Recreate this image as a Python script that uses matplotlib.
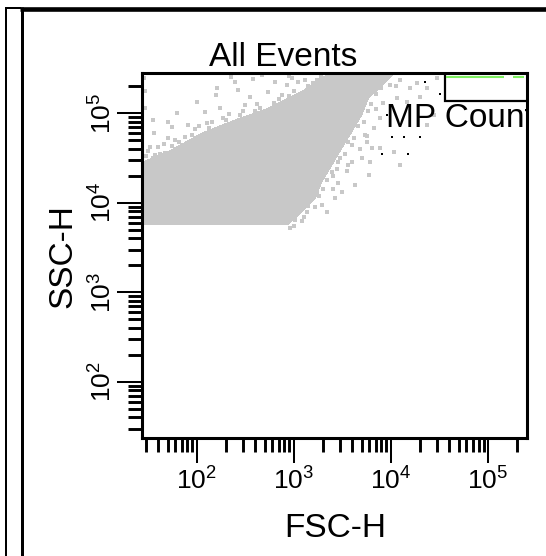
import matplotlib
matplotlib.use('Agg')
import matplotlib.pyplot as plt
import numpy as np
from matplotlib import ticker
from matplotlib.lines import Line2D
from matplotlib.patches import Rectangle

# dense band of events (FSC-H, SSC-H)
band_lower_fsc = [20, 879, 1208, 1660, 1945, 2465, 3125, 3960, 5020, 5870, 11070, 12000]
band_lower_ssc = [5750, 5750, 7960, 11200, 17200, 26400, 40600, 62200, 95700, 147000, 282000, 320000]
band_upper_fsc = [20, 28.2, 51, 112, 248, 548, 1208, 2188, 2400]
band_upper_ssc = [24900, 28800, 37300, 59800, 84200, 114000, 175000, 268000, 320000]

# sparse events outside the band (log10 of FSC-H / SSC-H)
speck_log_fsc = [1.460, 1.467, 1.553, 1.519, 1.570, 1.673, 1.708, 1.742, 1.845, 1.879,
                 1.914, 2.000, 2.086, 2.103, 2.206, 2.240, 2.275, 2.395, 2.429, 2.498,
                 2.550, 2.653, 2.670, 2.739, 2.807, 2.876, 2.928, 2.979, 3.048, 3.117,
                 3.237,
                 1.48, 1.50, 1.55, 1.60, 1.62, 1.66, 1.75, 1.78, 1.82, 1.95,
                 1.98, 2.02, 2.13, 2.16, 2.30, 2.33, 2.45, 2.48, 2.60, 2.62,
                 2.80, 2.85, 2.95, 3.00, 3.15, 3.20, 3.28, 1.44, 1.44, 1.56,
                 1.70, 1.80, 2.20, 2.35, 2.58, 2.95, 1.47,
                 2.979, 3.048, 3.013, 3.082, 3.134, 3.237, 3.288, 3.340, 3.288, 3.391,
                 3.426, 3.495, 3.460, 3.563, 3.632, 3.598, 3.701, 3.770, 3.735, 3.804,
                 2.96, 3.00, 3.10, 3.15, 3.22, 3.26, 3.30, 3.34, 3.40, 3.44,
                 3.48, 3.53, 3.56, 3.62, 3.66, 3.72, 3.76, 3.80, 3.85, 3.90,
                 3.95, 4.05, 3.85, 3.92, 3.68, 3.75, 3.55, 3.60, 3.40, 3.45,
                 3.993, 4.096, 4.199, 4.268, 4.371, 4.474, 4.062, 4.165, 4.303, 3.890,
                 3.821, 3.753, 3.890, 4.028, 3.787, 4.096, 4.371, 4.440]
speck_log_ssc = [5.391, 5.063, 4.925, 4.628, 4.534, 4.553, 4.721, 4.851, 4.646, 4.739,
                 4.870, 5.130, 5.019, 4.888, 5.279, 5.056, 4.944, 5.354, 5.261, 5.093,
                 5.186, 5.056, 5.428, 5.242, 5.354, 5.205, 5.317, 5.391, 5.354, 5.372,
                 5.372,
                 4.52, 4.58, 4.50, 4.62, 4.55, 4.66, 4.63, 4.70, 4.68, 4.76,
                 4.82, 4.86, 4.84, 4.90, 4.92, 4.99, 4.98, 5.03, 5.02, 5.10,
                 5.12, 5.16, 5.19, 5.25, 5.30, 5.34, 5.41, 4.70, 4.85, 4.78,
                 4.90, 5.00, 5.20, 5.40, 5.38, 5.42, 5.25,
                 4.032, 4.050, 3.808, 3.797, 3.901, 4.125, 3.976, 3.901, 4.311, 4.348,
                 4.050, 4.125, 4.460, 4.423, 4.199, 4.646, 4.497, 4.311, 4.758, 4.609,
                 3.72, 3.74, 3.84, 3.96, 3.95, 4.08, 4.15, 4.26, 4.30, 4.38,
                 4.50, 4.55, 4.68, 4.72, 4.86, 4.90, 5.02, 5.10, 5.22, 5.28,
                 5.38, 5.30, 5.05, 5.12, 4.60, 4.75, 4.35, 4.45, 4.15, 4.22,
                 5.317, 5.372, 5.279, 5.335, 5.279, 5.391, 5.168, 5.130, 5.186, 4.944,
                 4.832, 4.683, 4.609, 4.572, 4.460, 4.423, 4.870, 4.981]

# events inside the MP gate (black)
dot_log_fsc = [4.354, 4.509, 3.959, 4.010, 4.131, 4.296, 3.907, 4.175]
dot_log_ssc = [5.354, 5.212, 4.981, 4.739, 4.739, 4.739, 4.542, 4.542]

gate_fsc = [36300, 300000]
gate_ssc = [137000, 320000]
gate_line_fsc = [[37200, 147000], [181000, 237000]]
gate_line_ssc = 257000
gate_name = 'MP Count'
gate_label_fsc = 9000
gate_label_ssc = 70300

x_lim = (10 ** 1.434, 10 ** 5.399)
y_lim = (10 ** 1.374, 10 ** 5.45)

plt.rcParams['font.family'] = ['Liberation Sans', 'DejaVu Sans']
plt.rcParams['mathtext.default'] = 'regular'

W, H = 546, 556
fig = plt.figure(figsize=(W / 100, H / 100), dpi=100)
ax = fig.add_axes([141.8 / W, 1 - 437.8 / H, 384.9 / W, 364.8 / H])
ax.set_xscale('log')
ax.set_yscale('log')
ax.set_xlim(*x_lim)
ax.set_ylim(*y_lim)

poly_x = band_lower_fsc + band_upper_fsc[::-1]
poly_y = band_lower_ssc + band_upper_ssc[::-1]
ax.fill(poly_x, poly_y, color='#c8c8c8', lw=0, antialiased=False, zorder=1)
ax.plot(10 ** np.array(speck_log_fsc), 10 ** np.array(speck_log_ssc), 's',
        ms=2.3, mew=0, color='#c8c8c8', zorder=1)

ax.add_patch(Rectangle((gate_fsc[0], gate_ssc[0]), gate_fsc[1] - gate_fsc[0],
                       gate_ssc[1] - gate_ssc[0], facecolor='white',
                       edgecolor='black', lw=1.6, zorder=2))
for seg in gate_line_fsc:
    ax.plot(seg, [gate_line_ssc, gate_line_ssc], color='#7ef060', lw=1.5,
            solid_capstyle='butt', zorder=3)

ax.plot(10 ** np.array(dot_log_fsc), 10 ** np.array(dot_log_ssc), 's',
        ms=1.8, mew=0, color='black', zorder=4)
ax.text(gate_label_fsc, gate_label_ssc, gate_name, fontsize=24, ha='left',
        va='baseline', clip_on=True, zorder=5)

for s in ax.spines.values():
    s.set_linewidth(2.2)
    s.set_zorder(6)

ax.xaxis.set_minor_formatter(ticker.NullFormatter())
ax.yaxis.set_minor_formatter(ticker.NullFormatter())
ax.xaxis.set_major_locator(ticker.LogLocator(base=10, numticks=10))
ax.yaxis.set_major_locator(ticker.LogLocator(base=10, numticks=10))
ax.xaxis.set_minor_locator(ticker.LogLocator(base=10, subs=np.arange(2, 10), numticks=20))
ax.yaxis.set_minor_locator(ticker.LogLocator(base=10, subs=np.arange(2, 10), numticks=20))
ax.tick_params(which='major', length=18, width=1.45, labelsize=19)
ax.tick_params(which='minor', length=9.8, width=2.1)
ax.tick_params(axis='x', which='major', pad=3)
ax.tick_params(axis='y', which='major', pad=0.5, labelrotation=90)
for lab in ax.get_yticklabels():
    lab.set_va('center')

fig.text(283 / W, 1 - 66.5 / H, 'All Events', fontsize=24, ha='center', va='baseline')
fig.text(335 / W, 1 - 536.7 / H, 'FSC-H', fontsize=24, ha='center', va='baseline')
fig.text(71 / W, 1 - 256.5 / H, 'SSC-H', fontsize=24, rotation=90,
         rotation_mode='anchor', ha='center', va='baseline')

# outer frame
def frame_line(xs, ys, lw):
    fig.add_artist(Line2D([x / W for x in xs], [1 - y / H for y in ys],
                          lw=lw * 0.72, color='black', solid_capstyle='butt',
                          transform=fig.transFigure))

frame_line([6, 6], [6.5, H], 2)
frame_line([21.5, 21.5], [6.5, H], 3)
frame_line([5, 21], [7.7, 7.7], 2)
frame_line([20, W], [9, 9], 4.6)

fig.savefig('out.png', dpi=100)
